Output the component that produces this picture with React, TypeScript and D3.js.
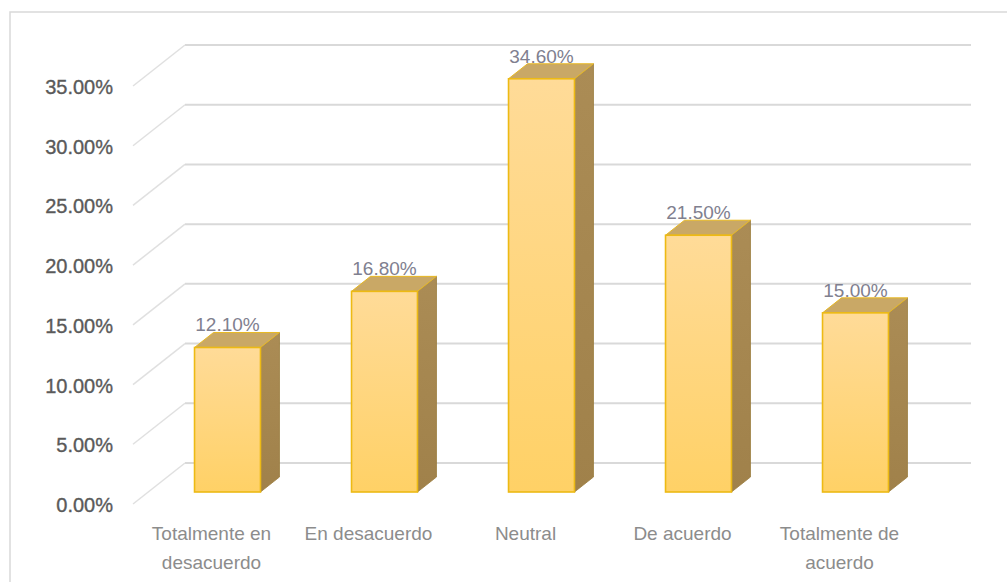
import React from "react";
import * as d3 from "d3";

const categories: string[][] = [
  ["Totalmente en", "desacuerdo"],
  ["En desacuerdo"],
  ["Neutral"],
  ["De acuerdo"],
  ["Totalmente de", "acuerdo"],
];
const values: number[] = [12.1, 16.8, 34.6, 21.5, 15.0];
const valueLabels: string[] = ["12.10%", "16.80%", "34.60%", "21.50%", "15.00%"];
const yTicks: number[] = [0, 5, 10, 15, 20, 25, 30, 35];

const W = 1007;
const H = 582;

export default function App() {
  const yBack = d3.scaleLinear().domain([0, 35]).range([463, 45]);
  const floorOffset = 29; // front plane lies lower than back wall
  const yFront = (v: number) => yBack(v) + floorOffset;
  const keys = categories.map((c) => c.join(" "));
  const x = d3.scaleBand<string>().domain(keys).range([149, 934]).paddingInner(0.58).paddingOuter(0.29);
  const bw = x.bandwidth();
  const depthX = 19;
  const depthY = 15;
  const wallLeft = 185;
  const wallRight = 971;
  const diagDX = 52;
  const diagDY = 41;

  const fontFamily = "'Liberation Sans', Arial, sans-serif";

  return (
    <svg width={W} height={H} style={{ position: "absolute", left: 0, top: 0, background: "#fff" }}>
      <defs>
        <linearGradient id="frontGrad" x1="0" y1="0" x2="0" y2="1">
          <stop offset="0" stopColor="#FFDB98" />
          <stop offset="1" stopColor="#FFD166" />
        </linearGradient>
        <linearGradient id="sideGrad" x1="0" y1="0" x2="0" y2="1">
          <stop offset="0" stopColor="#AB8C55" />
          <stop offset="1" stopColor="#A0814A" />
        </linearGradient>
      </defs>
      <rect x={10} y={12} width={1020} height={600} fill="#fff" stroke="#d9d9d9" strokeWidth={1.5} />

      {/* gridlines */}
      {yTicks.map((t) => (
        <g key={t}>
          <line x1={wallLeft} x2={wallRight} y1={yBack(t)} y2={yBack(t)} stroke="#d9d9d9" strokeWidth={2} />
          <line
            x1={wallLeft - diagDX}
            y1={yBack(t) + diagDY}
            x2={wallLeft}
            y2={yBack(t)}
            stroke="#e0e0e0"
            strokeWidth={1.5}
          />
          <text
            x={113}
            y={yBack(t) + diagDY + 8}
            textAnchor="end"
            fontFamily={fontFamily}
            fontSize={20}
            fill="#5a5a5a"
            stroke="#5a5a5a"
            strokeWidth={0.35}
          >
            {t.toFixed(2) + "%"}
          </text>
        </g>
      ))}

      {/* bars */}
      {values.map((v, i) => {
        const x0 = x(keys[i]) as number;
        const x1 = x0 + bw;
        const yt = yFront(v);
        const yb = yFront(0);
        const top = `M${x0},${yt} L${x0 + depthX},${yt - depthY} L${x1 + depthX},${yt - depthY} L${x1},${yt} Z`;
        const side = `M${x1},${yt} L${x1 + depthX},${yt - depthY} L${x1 + depthX},${yb - depthY} L${x1},${yb} Z`;
        return (
          <g key={i}>
            <path d={side} fill="url(#sideGrad)" stroke="#9a7c3e" strokeWidth={0.8} />
            <path d={top} fill="#C9A866" stroke="#E8B923" strokeWidth={1} />
            <rect x={x0} y={yt} width={bw} height={yb - yt} fill="url(#frontGrad)" stroke="#EDBA14" strokeWidth={1.6} />
            <text
              x={x0 + bw / 2}
              y={yt - 16}
              textAnchor="middle"
              fontFamily={fontFamily}
              fontSize={19}
              fill="#80808f"
            >
              {valueLabels[i]}
            </text>
          </g>
        );
      })}

      {/* category labels */}
      {categories.map((lines, i) => {
        const cx = (x(keys[i]) as number) + bw / 2 - 16;
        return (
          <text key={i} textAnchor="middle" fontFamily={fontFamily} fontSize={19} fill="#8c8c8c">
            {lines.map((l, j) => (
              <tspan key={j} x={cx} y={540 + j * 29}>
                {l}
              </tspan>
            ))}
          </text>
        );
      })}
    </svg>
  );
}
